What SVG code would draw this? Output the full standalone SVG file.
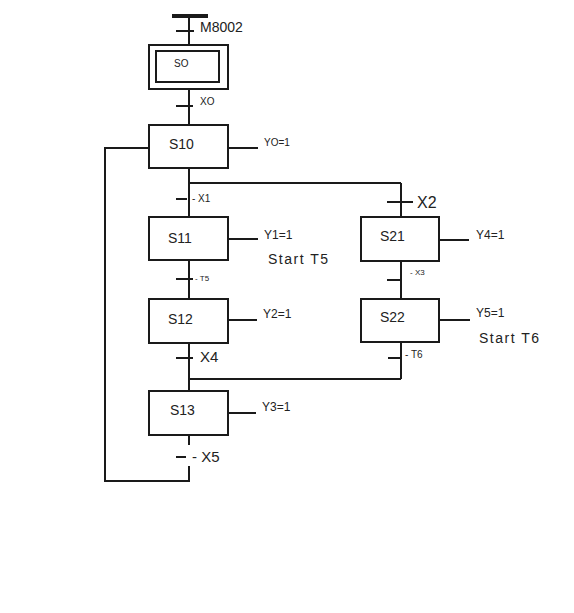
<svg xmlns="http://www.w3.org/2000/svg" width="574" height="613" viewBox="0 0 574 613">
<style>
.ln{stroke:#1a1a1a;stroke-width:2;fill:none}
.bx{stroke:#1a1a1a;stroke-width:2;fill:#fff}
.t{font-family:"Liberation Sans",Arial,sans-serif;fill:#222}
.s{font-size:10px}
.m{font-size:12px}
.l{font-size:14px}
.st{font-size:14px;letter-spacing:1.5px}
</style>
<rect width="574" height="613" fill="#fff"/>
<g id="connectors">
<line class="ln" x1="172" y1="16" x2="208" y2="16" style="stroke-width:4"/>
<line class="ln" x1="189" y1="16" x2="189" y2="45"/>
<line class="ln" x1="176" y1="31" x2="194" y2="31"/>
<line class="ln" x1="189" y1="89" x2="189" y2="125"/>
<line class="ln" x1="176" y1="106" x2="193" y2="106"/>
<polyline class="ln" points="149,148 105,148 105,481 189,481 189,466"/>
<line class="ln" x1="189" y1="168" x2="189" y2="217"/>
<line class="ln" x1="189" y1="183" x2="401" y2="183"/>
<line class="ln" x1="401" y1="183" x2="401" y2="217"/>
<line class="ln" x1="387" y1="202" x2="413" y2="202"/>
<line class="ln" x1="176" y1="199" x2="187" y2="199"/>
<line class="ln" x1="189" y1="260" x2="189" y2="299"/>
<line class="ln" x1="176" y1="279" x2="193" y2="279"/>
<line class="ln" x1="189" y1="343" x2="189" y2="391"/>
<line class="ln" x1="176" y1="358" x2="193" y2="358"/>
<line class="ln" x1="189" y1="379" x2="401" y2="379"/>
<line class="ln" x1="401" y1="261" x2="401" y2="299"/>
<line class="ln" x1="387" y1="280" x2="400" y2="280"/>
<line class="ln" x1="401" y1="342" x2="401" y2="379"/>
<line class="ln" x1="388" y1="358" x2="400" y2="358"/>
<line class="ln" x1="189" y1="435" x2="189" y2="445"/>
<line class="ln" x1="176" y1="457" x2="186" y2="457"/>
<line class="ln" x1="228" y1="148" x2="258" y2="148"/>
<line class="ln" x1="228" y1="239" x2="258" y2="239"/>
<line class="ln" x1="228" y1="320" x2="257" y2="320"/>
<line class="ln" x1="228" y1="413" x2="256" y2="413"/>
<line class="ln" x1="439" y1="240" x2="469" y2="240"/>
<line class="ln" x1="439" y1="320" x2="470" y2="320"/>
</g>
<g id="M8002"><text class="t l" x="200" y="32">M8002</text></g>
<g id="S0">
<rect class="bx" x="149" y="45" width="79" height="44"/>
<rect class="bx" x="156" y="51" width="63" height="31"/>
<text class="t s" x="174" y="67">SO</text>
</g>
<g id="XO"><text class="t s" x="200" y="105">XO</text></g>
<g id="S10">
<rect class="bx" x="149" y="125" width="79" height="43"/>
<text class="t l" x="169" y="149">S10</text>
<text class="t s" x="264" y="146">YO=1</text>
</g>
<g id="X1"><text class="t s" x="192" y="202">- X1</text></g>
<g id="X2"><text class="t" x="417" y="208" style="font-size:16px">X2</text></g>
<g id="S11">
<rect class="bx" x="149" y="217" width="79" height="43"/>
<text class="t l" x="168" y="243">S11</text>
<text class="t m" x="264" y="239">Y1=1</text>
<text class="t st" x="268" y="264">Start T5</text>
</g>
<g id="T5"><text class="t" x="195" y="281" style="font-size:8px">- T5</text></g>
<g id="S12">
<rect class="bx" x="149" y="299" width="79" height="44"/>
<text class="t l" x="168" y="324">S12</text>
<text class="t m" x="263" y="318">Y2=1</text>
</g>
<g id="X4"><text class="t" x="200" y="362" style="font-size:15px">X4</text></g>
<g id="S13">
<rect class="bx" x="149" y="391" width="79" height="44"/>
<text class="t l" x="170" y="415">S13</text>
<text class="t m" x="262" y="411">Y3=1</text>
</g>
<g id="X5"><text class="t" x="192" y="462" style="font-size:15px">- X5</text></g>
<g id="S21">
<rect class="bx" x="361" y="217" width="78" height="44"/>
<text class="t l" x="380" y="241">S21</text>
<text class="t m" x="476" y="239">Y4=1</text>
</g>
<g id="X3"><text class="t" x="410" y="275" style="font-size:8px">- X3</text></g>
<g id="S22">
<rect class="bx" x="361" y="299" width="78" height="43"/>
<text class="t l" x="380" y="322">S22</text>
<text class="t m" x="476" y="317">Y5=1</text>
<text class="t st" x="479" y="343">Start T6</text>
</g>
<g id="T6"><text class="t s" x="405" y="358">- T6</text></g>
</svg>
